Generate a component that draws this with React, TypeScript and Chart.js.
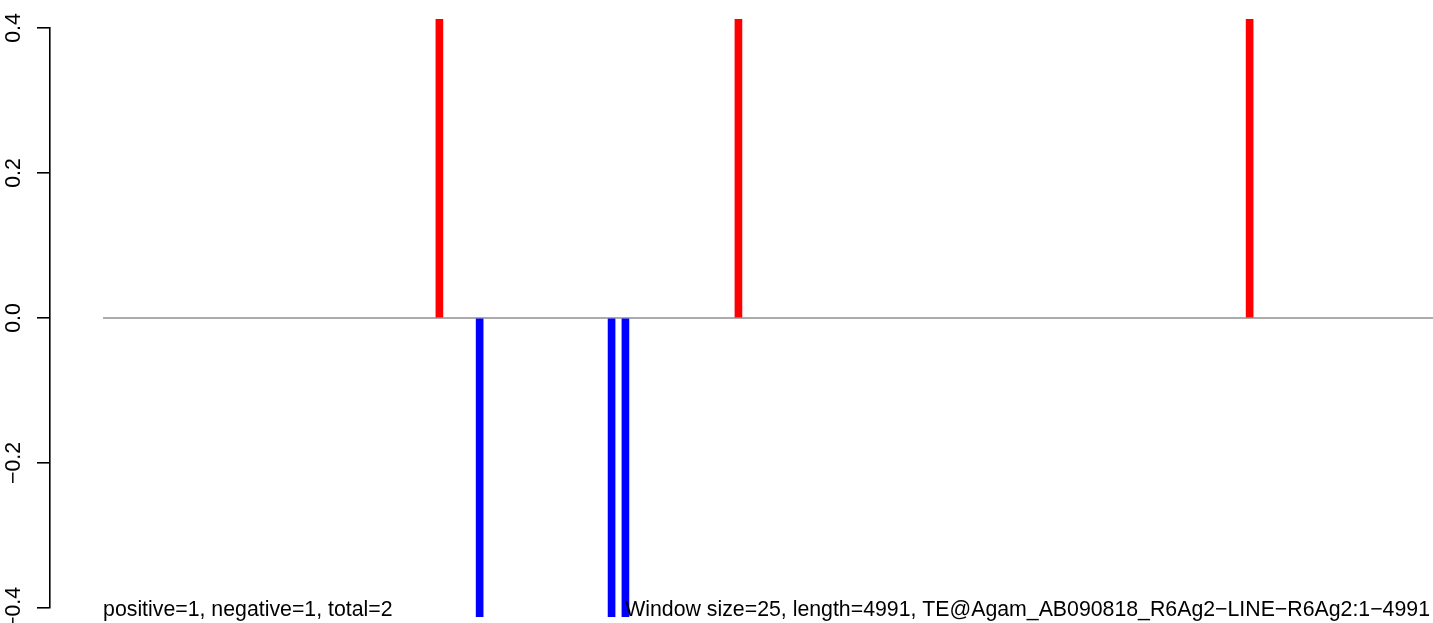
import React, { useEffect, useRef } from "react";
import { Chart, registerables } from "chart.js";

Chart.register(...registerables);

// Data
const positivePositions = [1263, 2385, 4303];
const positiveValues = [0.412, 0.412, 0.412];
const negativePositions = [1414, 1909, 1961];
const negativeValues = [-0.412, -0.412, -0.412];
const baselineRange = [1, 4991];
const xRange = [-198, 4991];
const yTicks = [-0.4, -0.2, 0.0, 0.2, 0.4];
const yTickLabels = ["\u22120.4", "\u22120.2", "0.0", "0.2", "0.4"];
const leftNote = "positive=1, negative=1, total=2";
const rightNote = "Window size=25, length=4991, TE@Agam_AB090818_R6Ag2\u2212LINE\u2212R6Ag2:1\u22124991";

const FONT = '21.3px "Liberation Sans", Arial, Helvetica, sans-serif';

const annotationPlugin = {
  id: "rAnnotations",
  afterDraw(chart: any) {
    const ctx = chart.ctx;
    const y = chart.scales.y;
    const x = chart.scales.x;
    ctx.save();
    ctx.fillStyle = "#000000";
    ctx.font = FONT;
    // rotated y tick labels
    yTicks.forEach((v, i) => {
      const py = y.getPixelForValue(v);
      ctx.save();
      ctx.translate(19.5, py);
      ctx.rotate(-Math.PI / 2);
      ctx.textAlign = "center";
      ctx.textBaseline = "alphabetic";
      ctx.fillText(yTickLabels[i], 0, 0);
      ctx.restore();
    });
    // bottom notes
    ctx.textBaseline = "alphabetic";
    ctx.textAlign = "left";
    ctx.fillText(leftNote, x.getPixelForValue(baselineRange[0]), 616);
    ctx.textAlign = "right";
    ctx.fillText(rightNote, 1430, 616);
    ctx.restore();
  },
};

export default function App() {
  const ref = useRef<HTMLCanvasElement | null>(null);
  useEffect(() => {
    if (!ref.current) return;
    const chart = new Chart(ref.current, {
      type: "bar",
      data: {
        datasets: [
          {
            type: "line",
            data: baselineRange.map((v) => ({ x: v, y: 0 })),
            borderColor: "#8f8f8f",
            borderWidth: 1.3,
            pointRadius: 0,
            order: 3,
          } as any,
          {
            type: "bar",
            data: positivePositions.map((p, i) => ({ x: p, y: positiveValues[i] })),
            backgroundColor: "#ff0000",
            borderWidth: 0,
            barThickness: 7,
            grouped: false,
            clip: false,
            order: 1,
          } as any,
          {
            type: "bar",
            data: negativePositions.map((p, i) => ({ x: p, y: negativeValues[i] })),
            backgroundColor: "#0000ff",
            borderWidth: 0,
            barThickness: 7,
            grouped: false,
            clip: false,
            order: 1,
          } as any,
        ],
      },
      options: {
        animation: false,
        responsive: false,
        events: [],
        layout: { padding: { top: 28, bottom: 15, left: 0, right: 0 } },
        plugins: {
          legend: { display: false },
          tooltip: { enabled: false },
          title: { display: false },
        },
        scales: {
          x: {
            type: "linear",
            min: xRange[0],
            max: xRange[1],
            offset: false,
            display: false,
          },
          y: {
            type: "linear",
            min: -0.4,
            max: 0.4,
            afterFit(scale: any) {
              scale.width = 50;
            },
            afterBuildTicks(scale: any) {
              scale.ticks = yTicks.map((v) => ({ value: v }));
            },
            ticks: { display: false },
            grid: {
              drawOnChartArea: false,
              drawTicks: true,
              tickLength: 13,
              color: "#000000",
              lineWidth: 1.6,
            },
            border: { display: true, color: "#000000", width: 1.6 },
          },
        },
      },
      plugins: [annotationPlugin],
    } as any);
    return () => chart.destroy();
  }, []);
  return (
    <div style={{ position: "absolute", left: 0, top: 0, width: 1433, height: 623, background: "#fff" }}>
      <canvas ref={ref} width={1433} height={623} />
    </div>
  );
}
